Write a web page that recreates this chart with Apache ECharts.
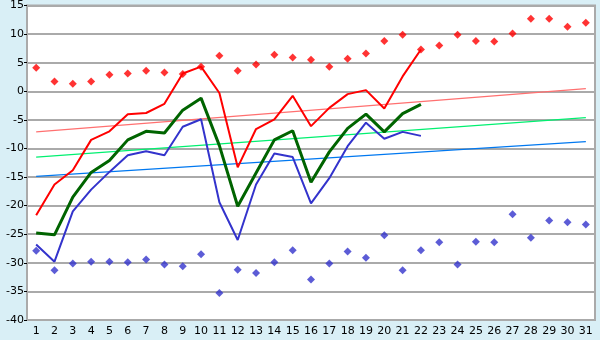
<!DOCTYPE html>
<html><head><meta charset="utf-8">
<script src="https://cdn.jsdelivr.net/npm/echarts@6/dist/echarts.min.js"></script>
<style>html,body{margin:0;padding:0;background:#d9eff6;}#c{width:600px;height:340px;}</style>
</head><body><div id="c"></div>
<script>
var days = ['1','2','3','4','5','6','7','8','9','10','11','12','13','14','15','16','17','18','19','20','21','22','23','24','25','26','27','28','29','30','31'];
var maxTemp = [-21.7,-16.3,-13.8,-8.5,-7.0,-4.0,-3.8,-2.2,3.1,4.3,-0.3,-13.3,-6.6,-4.9,-0.8,-6.1,-2.9,-0.5,0.2,-3.0,2.6,7.3];
var avgTemp = [-24.8,-25.1,-18.5,-14.2,-12.1,-8.5,-7.0,-7.3,-3.3,-1.2,-9.5,-20.1,-14.3,-8.5,-6.9,-15.9,-10.6,-6.5,-4.0,-7.1,-3.9,-2.3];
var minTemp = [-26.8,-29.8,-21.0,-17.2,-14.1,-11.2,-10.5,-11.2,-6.2,-4.9,-19.4,-26.0,-16.3,-10.9,-11.5,-19.6,-15.2,-9.6,-5.5,-8.3,-7.1,-7.8];
var recordMax = [4.1,1.7,1.3,1.7,2.9,3.1,3.6,3.3,3.0,4.3,6.2,3.6,4.7,6.4,5.9,5.5,4.3,5.7,6.6,8.8,9.9,7.3,8.0,9.9,8.8,8.7,10.1,12.7,12.7,11.3,12.0];
var recordMin = [-27.9,-31.3,-30.1,-29.8,-29.8,-29.9,-29.4,-30.3,-30.6,-28.5,-35.3,-31.2,-31.8,-29.9,-27.8,-32.9,-30.1,-28.0,-29.1,-25.2,-31.3,-27.8,-26.4,-30.3,-26.3,-26.4,-21.5,-25.6,-22.6,-22.9,-23.3];
var trendMax = [-7.1, 0.45];
var trendAvg = [-11.5, -4.6];
var trendMin = [-14.9, -8.8];
var yTicks = [-40,-35,-30,-25,-20,-15,-10,-5,0,5,10,15];

function ends(t){ var d = days.map(function(){return null;}); d[0]=t[0]; d[days.length-1]=t[1]; return d; }

var chart = echarts.init(document.getElementById('c'), null, {renderer:'canvas'});
chart.setOption({
  backgroundColor:'#d9eff6',
  animation:false,
  grid:{left:27,right:5,top:5,bottom:20,show:true,backgroundColor:'#ffffff',borderColor:'#aaaaaa',borderWidth:2},
  xAxis:{type:'category',data:days,boundaryGap:true,
    axisLine:{lineStyle:{color:'#aaaaaa',width:2}},
    axisTick:{alignWithLabel:true,length:5,lineStyle:{color:'#000',width:1}},
    axisLabel:{color:'#000',fontFamily:'DejaVu Sans',fontSize:11,margin:6,interval:0},
    splitLine:{show:false}},
  yAxis:{type:'value',min:yTicks[0],max:yTicks[yTicks.length-1],interval:5,
    axisLine:{show:true,lineStyle:{color:'#aaaaaa',width:2}},
    axisTick:{show:true,length:3,lineStyle:{color:'#000'}},
    axisLabel:{color:'#000',fontFamily:'DejaVu Sans',fontSize:11,margin:3},
    splitLine:{lineStyle:{color:'#aaaaaa',width:2}}},
  series:[
    {type:'line',data:ends(trendMax),connectNulls:true,symbol:'none',lineStyle:{color:'#ff7070',width:1.3},z:2},
    {type:'line',data:ends(trendAvg),connectNulls:true,symbol:'none',lineStyle:{color:'#00f070',width:1.3},z:2},
    {type:'line',data:ends(trendMin),connectNulls:true,symbol:'none',lineStyle:{color:'#0078f0',width:1.3},z:2},
    {type:'line',data:maxTemp,symbol:'none',lineStyle:{color:'#ff0000',width:2},z:3},
    {type:'line',data:avgTemp,symbol:'none',lineStyle:{color:'#006400',width:3},z:3},
    {type:'line',data:minTemp,symbol:'none',lineStyle:{color:'#3333cc',width:2},z:3},
    {type:'scatter',data:recordMax,symbol:'diamond',symbolSize:8,itemStyle:{color:'#ff0000'},z:4},
    {type:'scatter',data:recordMin,symbol:'diamond',symbolSize:8,itemStyle:{color:'#3333cc'},z:4}
  ]
});
</script></body></html>
